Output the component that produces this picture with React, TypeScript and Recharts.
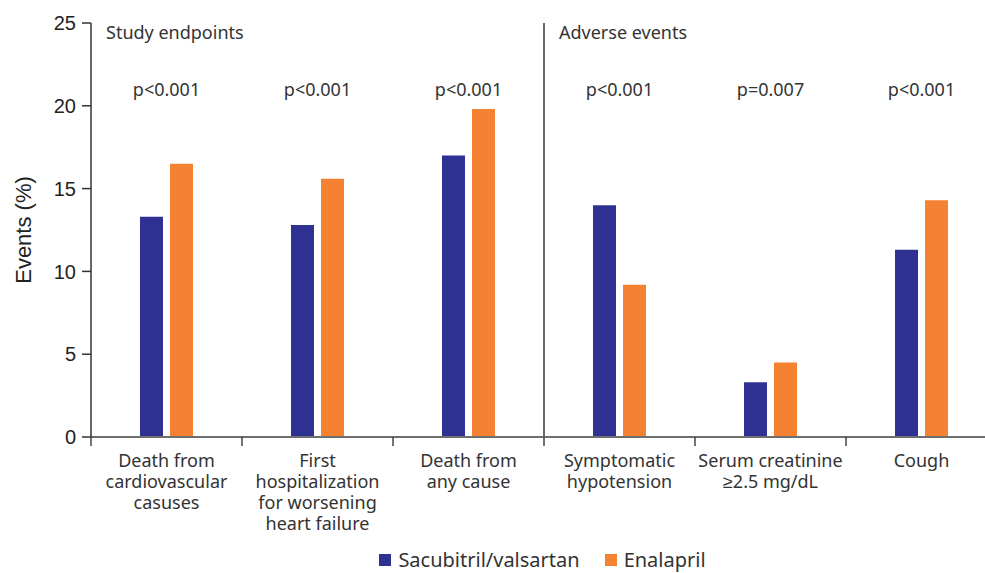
import {
  Bar,
  BarChart,
  Label,
  Legend,
  ReferenceDot,
  ReferenceLine,
  XAxis,
  YAxis,
} from "recharts";

const categories = [
  "Death from\ncardiovascular\ncasuses",
  "First\nhospitalization\nfor worsening\nheart failure",
  "Death from\nany cause",
  "Symptomatic\nhypotension",
  "Serum creatinine\n≥2.5 mg/dL",
  "Cough",
];
const seriesNames = ["Sacubitril/valsartan", "Enalapril"];
const sacubitrilValsartan = [13.3, 12.8, 17.0, 14.0, 3.3, 11.3];
const enalapril = [16.5, 15.6, 19.8, 9.2, 4.5, 14.3];
const pValues = ["p<0.001", "p<0.001", "p<0.001", "p<0.001", "p=0.007", "p<0.001"];
const yTicks = [0, 5, 10, 15, 20, 25];
const groupTitles = ["Study endpoints", "Adverse events"];
const groupStarts = [0, 3];
const pLabelLevel = 21;

const BLUE = "#2E3192";
const ORANGE = "#F58233";
const TEXT = "#333";
const SANS = "'Noto Sans', sans-serif";
const ARIAL = "'Liberation Sans', Arial, sans-serif";

const data = categories.map((name, i) => ({
  name,
  sv: sacubitrilValsartan[i],
  en: enalapril[i],
  p: pValues[i],
}));

// label plus a boundary tick on the left edge of each band (and the right edge of the last)
function CategoryTick({ x, y, payload }: any) {
  const lines = String(payload.value).split("\n");
  const half = payload.offset || 0;
  const isLast = payload.index === categories.length - 1;
  return (
    <g>
      <line x1={x - half} x2={x - half} y1={y} y2={y + 9} stroke="#444" strokeWidth={1.5} />
      {isLast && <line x1={x + half} x2={x + half} y1={y} y2={y + 9} stroke="#444" strokeWidth={1.5} />}
      <text x={x} y={y} textAnchor="middle" fill={TEXT} fontSize={18} fontFamily={SANS}>
        {lines.map((line, i) => (
          <tspan key={i} x={x} dy={i === 0 ? 30 : 21}>
            {line}
          </tspan>
        ))}
      </text>
    </g>
  );
}

const groupLabel = (text: string) => (props: any) => {
  const { viewBox } = props;
  return (
    <text x={viewBox.x + 15} y={viewBox.y + 16} fill={TEXT} fontSize={18} fontFamily={SANS}>
      {text}
    </text>
  );
};

function LegendContent({ payload }: any) {
  const items = [...(payload || [])].sort(
    (a: any, b: any) => seriesNames.indexOf(a.value) - seriesNames.indexOf(b.value)
  );
  return (
    <div
      style={{
        display: "flex",
        justifyContent: "center",
        gap: 25,
        paddingTop: 6,
        paddingLeft: 91,
        paddingRight: 3,
        fontFamily: SANS,
        fontSize: 20,
        color: TEXT,
      }}
    >
      {items.map((entry: any) => (
        <div key={entry.value} style={{ display: "flex", alignItems: "center" }}>
          <span style={{ display: "inline-block", width: 12, height: 12, background: entry.color, marginRight: 7 }} />
          <span>{entry.value}</span>
        </div>
      ))}
    </div>
  );
}

export default function App() {
  return (
    <div style={{ position: "absolute", left: 0, top: 0, width: 985, height: 573, overflow: "hidden", background: "#fff" }}>
      <BarChart
        width={1000}
        height={573}
        data={data}
        margin={{ top: 23, right: 3, bottom: 0, left: 0 }}
        barSize={23}
        barGap={7}
      >
        <XAxis
          dataKey="name"
          interval={0}
          tickSize={0}
          tickMargin={0}
          tickLine={false}
          axisLine={{ stroke: "#6e6e6e", strokeWidth: 2 }}
          tick={<CategoryTick />}
          height={103}
        />
        <YAxis
          domain={[0, 25]}
          ticks={yTicks}
          width={91}
          tickSize={9}
          tickMargin={6}
          axisLine={{ stroke: "#333", strokeWidth: 1.5 }}
          tickLine={{ stroke: "#333", strokeWidth: 1.5 }}
          tick={{ fill: "#222", fontSize: 20, fontFamily: ARIAL }}
        >
          <Label
            content={(props: any) => {
              const vb = props.viewBox;
              const cx = vb.x + 23;
              const cy = vb.y + vb.height / 2;
              return (
                <text
                  x={cx}
                  y={cy}
                  transform={`rotate(-90, ${cx}, ${cy})`}
                  textAnchor="middle"
                  dominantBaseline="central"
                  fill="#222"
                  fontSize={22}
                  fontFamily={ARIAL}
                >
                  Events (%)
                </text>
              );
            }}
          />
        </YAxis>
        {groupStarts.map((start, i) => (
          <ReferenceLine
            key={groupTitles[i]}
            x={categories[start]}
            position="start"
            stroke={start === 0 ? "none" : "#333"}
            strokeWidth={1.5}
            label={groupLabel(groupTitles[i])}
          />
        ))}
        {data.map((d) => (
          <ReferenceDot
            key={d.name}
            x={d.name}
            y={pLabelLevel}
            r={0}
            fill="none"
            stroke="none"
            label={{ value: d.p, position: "center", fill: TEXT, fontSize: 18, fontFamily: SANS }}
          />
        ))}
        <Bar dataKey="sv" name={seriesNames[0]} fill={BLUE} isAnimationActive={false} />
        <Bar dataKey="en" name={seriesNames[1]} fill={ORANGE} isAnimationActive={false} />
        <Legend verticalAlign="bottom" content={<LegendContent />} />
      </BarChart>
    </div>
  );
}
